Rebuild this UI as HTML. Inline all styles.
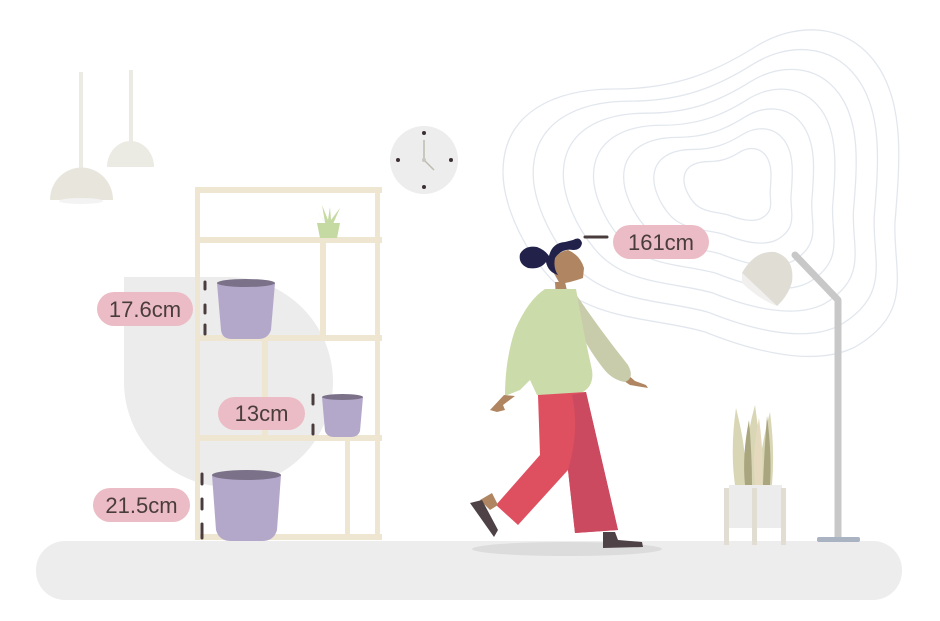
<!DOCTYPE html>
<html><head><meta charset="utf-8"><style>
html,body{margin:0;padding:0;background:#fff;}
svg{display:block;}
text{font-family:"Liberation Sans",sans-serif;fill:#4a3c3c;}
</style></head><body>
<svg width="940" height="621" viewBox="0 0 940 621" xmlns="http://www.w3.org/2000/svg">
<defs><path id="c" d="M-232,-10 C-232,-70 -180,-93 -120,-93 C-60,-93 -20,-110 20,-135 C60,-160 110,-160 140,-120 C170,-80 165,-20 160,40 C158,90 180,130 120,165 C80,185 20,170 -30,150 C-80,135 -150,140 -190,90 C-215,60 -232,20 -232,-10 Z"/></defs>
<g fill="none" stroke="#e2e7ee">
<g transform="translate(735,182)">
<use href="#c" stroke-width="1.3"/>
<use href="#c" transform="scale(0.87)" stroke-width="1.5"/>
<use href="#c" transform="scale(0.74)" stroke-width="1.76"/>
<use href="#c" transform="scale(0.61)" stroke-width="2.1"/>
<use href="#c" transform="scale(0.48)" stroke-width="2.7"/>
<use href="#c" transform="scale(0.35)" stroke-width="3.7"/>
<use href="#c" transform="scale(0.22)" stroke-width="5.9"/>
</g>
</g>
<rect x="36" y="541" width="866" height="59" rx="29" fill="#ededed"/>
<path d="M124,277 H228 A105,105 0 0 1 333,382 A105,105 0 0 1 228,487 A105,105 0 0 1 124,382 Z" fill="#ececec"/>
<rect x="79" y="72" width="4" height="100" fill="#ecebe3"/>
<path d="M50,200 A31,32 0 0 1 113,200 Z" fill="#e8e6dc"/>
<ellipse cx="81" cy="201" rx="22" ry="3" fill="#f3f3f3"/>
<rect x="129" y="70" width="4" height="72" fill="#ecebe3"/>
<path d="M107,167 A23.5,26 0 0 1 154,167 Z" fill="#ebeae3"/>
<circle cx="424" cy="160" r="34" fill="#ededed"/>
<g fill="#3d3035"><circle cx="424" cy="133" r="2"/><circle cx="424" cy="187" r="2"/><circle cx="398" cy="160" r="2"/><circle cx="451" cy="160" r="2"/></g>
<path d="M424,140 V160 L434,170" stroke="#bdbbae" stroke-width="1.5" fill="none"/>
<circle cx="424" cy="160" r="2" fill="#c8c8c0"/>
<g fill="#efe6d1">
<rect x="195" y="187" width="5" height="353"/>
<rect x="375" y="187" width="5" height="353"/>
<rect x="195" y="187" width="187" height="6"/>
<rect x="195" y="237" width="187" height="6"/>
<rect x="195" y="335" width="187" height="6"/>
<rect x="195" y="435" width="187" height="6"/>
<rect x="195" y="534" width="187" height="6"/>
<rect x="320" y="243" width="6" height="92"/>
<rect x="262" y="341" width="6" height="94"/>
<rect x="345" y="441" width="5" height="93"/>
</g>
<g fill="#c5d9a3">
<path d="M327,225 L316,210 L325,222 L322,205 L328,220 L330,207 L331,220 L340,208 L333,224 Z"/>
<path d="M317,223 H340 L337,238 H320 Z"/>
</g>
<g>
<path d="M217,283 H275 L271,330 Q268,339 258,339 H232 Q222,339 221,330 Z" fill="#b4a8ca"/>
<ellipse cx="246" cy="283" rx="29" ry="4" fill="#7b7189"/>
<path d="M322,397 H363 L360,431 Q358,437 351,437 H334 Q327,437 325,431 Z" fill="#b4a8ca"/>
<ellipse cx="342.5" cy="397" rx="20.5" ry="3" fill="#7b7189"/>
<path d="M212,475 H281 L277,530 Q274,541 262,541 H231 Q219,541 216,530 Z" fill="#b4a8ca"/>
<ellipse cx="246.5" cy="475" rx="34.5" ry="5" fill="#7b7189"/>
</g>
<g stroke="#4a3c3c" stroke-width="3" stroke-linecap="round">
<line x1="205" y1="282" x2="205" y2="289"/><line x1="205" y1="305" x2="205" y2="313"/><line x1="205" y1="325" x2="205" y2="334"/>
<line x1="313" y1="395" x2="313" y2="404"/><line x1="313" y1="425" x2="313" y2="434"/>
<line x1="202" y1="474" x2="202" y2="484"/><line x1="202" y1="499" x2="202" y2="509"/><line x1="202" y1="524" x2="202" y2="538"/>
<line x1="585" y1="237" x2="607" y2="237"/>
</g>
<g fill="#ebbcc5">
<rect x="97" y="292" width="96" height="34" rx="17"/>
<rect x="218" y="397" width="87" height="33" rx="16.5"/>
<rect x="93" y="488" width="97" height="34" rx="17"/>
<rect x="613" y="225" width="96" height="34" rx="17"/>
</g>
<text x="145" y="317" font-size="22" text-anchor="middle">17.6cm</text>
<text x="261.5" y="421" font-size="22" text-anchor="middle">13cm</text>
<text x="141.5" y="513" font-size="22" text-anchor="middle">21.5cm</text>
<text x="661" y="250" font-size="22" text-anchor="middle">161cm</text>
<ellipse cx="567" cy="549" rx="95" ry="7" fill="#dcdcdc"/>
<!-- person -->
<path d="M615,375 L630,385 L648,388 L646,385 L635,381 L620,368 Z" fill="#b08662"/>
<path d="M573,290 Q600,330 628,365 Q635,378 625,382 Q612,380 603,368 Q585,345 575,320 Z" fill="#c8ccab"/>
<path d="M555,282 L565,282 L568,295 L556,298 Z" fill="#b08662"/>
<path d="M545,289 L576,289 Q583,330 592,370 Q595,390 575,395 Q555,396 537,395 L530,380 L520,390 L505,396 Q505,360 515,330 Q528,300 545,289 Z" fill="#cbdba9"/>
<path d="M504,395 L515,396 L503,405 L505,410 L497,412 L490,410 Z" fill="#b08662"/>
<path d="M538,395 L586,392 L618,530 L575,533 L568,470 L518,525 L496,505 L540,455 Z" fill="#de4f60"/>
<path d="M572,395 L586,392 L618,530 L575,533 L568,470 Q580,430 572,395 Z" fill="#cb4a60"/>
<path d="M480,500 L492,493 L498,505 L490,510 Z" fill="#b08662"/>
<path d="M470,503 L482,500 L498,530 L494,537 Z" fill="#4e4246"/>
<path d="M603,532 L615,532 L618,540 L642,542 L643,547 L603,548 Z" fill="#4e4246"/>
<path d="M568,250 Q580,255 584,268 L583,278 L577,280 L570,282 L560,284 L552,270 Q552,253 568,250 Z" fill="#b08662"/>
<path d="M573,240 Q580,236 582,243 Q581,250 573,250 Q562,248 555,258 Q553,268 558,275 Q548,272 546,262 Q540,270 528,268 Q518,264 520,254 Q525,245 537,247 Q545,250 549,256 Q552,243 565,242 Z" fill="#21214a"/>
<path d="M838,537 V300 L795,255" stroke="#c8c8c8" stroke-width="7" fill="none" stroke-linejoin="round" stroke-linecap="round"/>
<rect x="817" y="537" width="43" height="5" rx="2" fill="#a9b3c2"/>
<path d="M742,273 Q755,250 775,252 Q795,258 792,282 Q788,296 777,306 Z" fill="#e0ddd5"/>
<path d="M742,273 L777,306 Q760,300 742,283 Z" fill="#f1f0ee"/>
<g>
<path d="M735,485 Q730,450 736,408 Q744,440 745,460 Q748,430 755,405 Q760,440 760,460 Q765,430 770,412 Q775,450 772,485 Z" fill="#d9d6b5"/>
<path d="M745,485 Q742,455 749,420 Q752,455 752,485 Z" fill="#a8a57f"/>
<path d="M755,485 Q752,450 759,418 Q764,455 762,485 Z" fill="#e5d9bd"/>
<path d="M763,485 Q764,455 767,416 Q772,455 770,485 Z" fill="#a8a57f"/>
</g>
<rect x="729" y="485" width="53" height="43" fill="#ececec"/>
<g fill="#e2ddd3"><rect x="724" y="488" width="5" height="57"/><rect x="752" y="488" width="5" height="57"/><rect x="781" y="488" width="5" height="57"/></g>
</svg>
</body></html>
